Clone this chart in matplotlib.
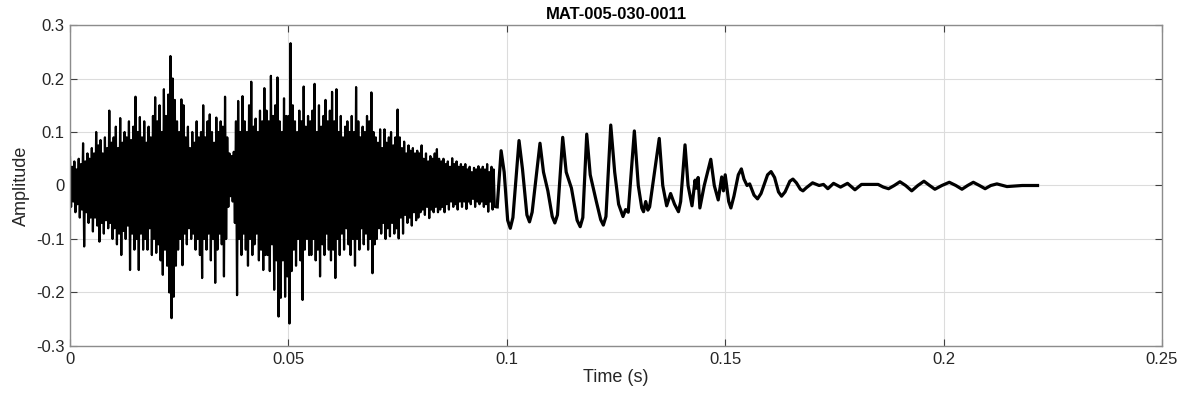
import numpy as np
import matplotlib
matplotlib.use('Agg')
import matplotlib.pyplot as plt
from matplotlib.ticker import FuncFormatter

plt.rcParams['font.family'] = ['Liberation Sans', 'DejaVu Sans']
plt.rcParams['axes.unicode_minus'] = False

title = 'MAT-005-030-0011'

# noisy burst: alternating upper / lower extrema, one pair every burst_dt seconds
burst_dt = 0.0005
burst_hi = [
    0.053, 0.035, 0.045, 0.03, 0.05, 0.04, 0.079, 0.045, 0.06, 0.05,
    0.07, 0.06, 0.10, 0.075, 0.085, 0.06, 0.09, 0.07, 0.14, 0.08,
    0.09, 0.11, 0.07, 0.126, 0.08, 0.1, 0.09, 0.12, 0.085, 0.11,
    0.166, 0.1, 0.128, 0.09, 0.12, 0.08, 0.11, 0.09, 0.13, 0.165,
    0.12, 0.15, 0.1, 0.18, 0.13, 0.17, 0.242, 0.2, 0.16, 0.12,
    0.1, 0.161, 0.15, 0.09, 0.11, 0.07, 0.1, 0.08, 0.12, 0.09,
    0.1, 0.15, 0.09, 0.12, 0.133, 0.1, 0.08, 0.127, 0.1, 0.12,
    0.11, 0.166, 0.09, 0.06, 0.055, 0.063, 0.12, 0.158, 0.1, 0.167,
    0.12, 0.1, 0.15, 0.194, 0.11, 0.125, 0.1, 0.14, 0.12, 0.182,
    0.14, 0.12, 0.205, 0.13, 0.15, 0.202, 0.12, 0.1, 0.163, 0.13,
    0.13, 0.266, 0.15, 0.12, 0.1, 0.14, 0.12, 0.185, 0.11, 0.13,
    0.12, 0.14, 0.19, 0.1, 0.15, 0.11, 0.13, 0.16, 0.12, 0.14,
    0.175, 0.12, 0.18, 0.1, 0.13, 0.09, 0.11, 0.12, 0.1, 0.13,
    0.1, 0.184, 0.12, 0.09, 0.11, 0.1, 0.13, 0.12, 0.174, 0.1,
    0.09, 0.08, 0.105, 0.07, 0.105, 0.08, 0.09, 0.1, 0.075, 0.09,
    0.142, 0.09, 0.07, 0.082, 0.06, 0.075, 0.065, 0.07, 0.06, 0.065,
    0.06, 0.075, 0.05, 0.06, 0.045, 0.055, 0.05, 0.06, 0.068, 0.05,
    0.045, 0.05, 0.04, 0.045, 0.035, 0.051, 0.04, 0.045, 0.035, 0.04,
    0.035, 0.04, 0.03, 0.035, 0.025, 0.033, 0.03, 0.036, 0.03, 0.035,
    0.03, 0.04, 0.025, 0.035, 0.03,
]
burst_lo = [
    -0.04, -0.03, -0.05, -0.035, -0.06, -0.045, -0.114, -0.05, -0.07, -0.06,
    -0.086, -0.06, -0.075, -0.105, -0.07, -0.09, -0.065, -0.08, -0.07, -0.1,
    -0.08, -0.11, -0.09, -0.13, -0.085, -0.1, -0.075, -0.158, -0.09, -0.12,
    -0.1, -0.158, -0.09, -0.12, -0.1, -0.12, -0.08, -0.13, -0.1, -0.126,
    -0.11, -0.14, -0.167, -0.12, -0.15, -0.2, -0.248, -0.208, -0.15, -0.12,
    -0.1, -0.149, -0.09, -0.11, -0.08, -0.1, -0.09, -0.12, -0.1, -0.13,
    -0.173, -0.1, -0.12, -0.09, -0.14, -0.1, -0.182, -0.12, -0.09, -0.11,
    -0.17, -0.1, -0.04, -0.02, -0.03, -0.07, -0.205, -0.1, -0.13, -0.09,
    -0.12, -0.15, -0.1, -0.13, -0.11, -0.09, -0.14, -0.12, -0.158, -0.13,
    -0.13, -0.16, -0.11, -0.195, -0.14, -0.245, -0.21, -0.14, -0.208, -0.17,
    -0.258, -0.16, -0.12, -0.15, -0.1, -0.14, -0.214, -0.12, -0.1, -0.13,
    -0.13, -0.1, -0.14, -0.12, -0.17, -0.11, -0.13, -0.09, -0.12, -0.14,
    -0.12, -0.173, -0.1, -0.13, -0.09, -0.12, -0.08, -0.11, -0.13, -0.1,
    -0.15, -0.1, -0.12, -0.08, -0.11, -0.09, -0.12, -0.1, -0.164, -0.11,
    -0.1, -0.08, -0.09, -0.07, -0.1, -0.08, -0.095, -0.07, -0.09, -0.08,
    -0.099, -0.06, -0.09, -0.055, -0.07, -0.06, -0.075, -0.05, -0.065, -0.06,
    -0.05, -0.045, -0.055, -0.04, -0.061, -0.045, -0.05, -0.04, -0.05, -0.045,
    -0.04, -0.05, -0.035, -0.045, -0.03, -0.04, -0.035, -0.045, -0.03, -0.04,
    -0.03, -0.044, -0.03, -0.035, -0.025, -0.04, -0.03, -0.035, -0.03, -0.04,
    -0.035, -0.049, -0.03, -0.045, -0.04,
]

# decaying ringing after the burst (time s, amplitude)
ring_t = [
    0.0978, 0.0987, 0.0994, 0.1002, 0.1008, 0.1014, 0.1028, 0.1036, 0.1046, 0.1052,
    0.1058, 0.1076, 0.1084, 0.1094, 0.1104, 0.1110, 0.1116, 0.1128, 0.1136, 0.1148,
    0.1161, 0.1168, 0.1174, 0.1183, 0.1191, 0.1205, 0.1215, 0.1221, 0.1227, 0.1238,
    0.1247, 0.1256, 0.1266, 0.1272, 0.1278, 0.1292, 0.1301, 0.1309, 0.1313, 0.1318,
    0.1323, 0.1327, 0.1349, 0.1357, 0.1366, 0.1375, 0.1384, 0.1393, 0.1398, 0.1408,
    0.1415, 0.1424, 0.1431, 0.1434, 0.1438, 0.1442, 0.1452, 0.1467, 0.1475, 0.1484,
    0.1492, 0.1496, 0.1500, 0.1508, 0.1513, 0.1520, 0.1530, 0.1537, 0.1543, 0.1550,
    0.1556, 0.1566, 0.1574, 0.1582, 0.1597, 0.1605, 0.1613, 0.1622, 0.1629, 0.1637,
    0.1648, 0.1655, 0.1663, 0.1672, 0.1678, 0.1686, 0.1700, 0.1715, 0.1725, 0.1735,
    0.1748, 0.1764, 0.1780, 0.1797, 0.1812, 0.1850, 0.1862, 0.1874, 0.1887, 0.1900,
    0.1913, 0.1927, 0.1941, 0.1955, 0.1968, 0.1980, 0.1996, 0.2013, 0.2028, 0.2042,
    0.2055, 0.2068, 0.2082, 0.2095, 0.2108, 0.2122, 0.2145, 0.2180, 0.2215,
]
ring_amp = [
    -0.04, 0.065, 0.025, -0.065, -0.08, -0.06, 0.084, 0.03, -0.055, -0.068,
    -0.05, 0.079, 0.025, -0.01, -0.058, -0.07, -0.055, 0.090, 0.025, -0.005,
    -0.065, -0.077, -0.06, 0.096, 0.02, -0.03, -0.064, -0.074, -0.058, 0.113,
    0.025, -0.035, -0.058, -0.045, -0.05, 0.102, 0.0, -0.042, -0.049, -0.03,
    -0.046, -0.04, 0.088, 0.0, -0.038, -0.015, -0.035, -0.049, -0.03, 0.076,
    0.0, -0.038, 0.01, -0.005, 0.015, -0.042, 0.0, 0.049, 0.0, -0.027,
    0.016, -0.01, 0.02, -0.03, -0.042, -0.02, 0.02, 0.031, 0.012, 0.0,
    0.003, -0.018, -0.025, -0.015, 0.02, 0.026, 0.015, -0.012, -0.02, -0.012,
    0.008, 0.012, 0.005, -0.007, -0.01, -0.004, 0.005, 0.0, 0.002, -0.006,
    0.004, -0.003, 0.004, -0.008, 0.002, 0.002, -0.003, -0.006, 0.0, 0.007,
    0.0, -0.01, 0.0, 0.008, 0.0, -0.007, 0.0, 0.006, 0.0, -0.007,
    0.0, 0.006, 0.0, -0.006, 0.0, 0.003, -0.002, 0.0, 0.0,
]

# interleave burst extrema into one trace
n = len(burst_hi)
burst_t = np.empty(2 * n)
burst_t[0::2] = np.arange(n) * burst_dt
burst_t[1::2] = (np.arange(n) + 0.5) * burst_dt
burst_y = np.empty(2 * n)
burst_y[0::2] = burst_hi
burst_y[1::2] = burst_lo

fig = plt.figure(figsize=(11.82, 4.04), dpi=100)
ax = fig.add_axes([0.0592, 0.1436, 0.9239, 0.7945])

ax.plot(np.append(burst_t, ring_t[0]), np.append(burst_y, ring_amp[0]),
        color='black', lw=1.6)
ax.plot(ring_t, ring_amp, color='black', lw=2.3, solid_joinstyle='round')

ax.set_xlim(0, 0.25)
ax.set_ylim(-0.3, 0.3)
ax.set_xticks([0, 0.05, 0.1, 0.15, 0.2, 0.25])
ax.set_yticks([-0.3, -0.2, -0.1, 0, 0.1, 0.2, 0.3])
fmt = FuncFormatter(lambda v, p: '%g' % round(v, 3))
ax.xaxis.set_major_formatter(fmt)
ax.yaxis.set_major_formatter(fmt)

ax.grid(True, color='#dcdcdc', lw=0.8)
ax.set_axisbelow(True)
for s in ax.spines.values():
    s.set_color('#8c8c8c')
    s.set_linewidth(1.0)
ax.tick_params(direction='in', top=True, right=True, length=5,
               color='#404040', labelsize=12, labelcolor='#262626', pad=4)

ax.set_xlabel('Time (s)', fontsize=13, color='#262626', labelpad=2)
ax.set_ylabel('Amplitude', fontsize=13, color='#262626', labelpad=4)
ax.set_title(title, fontsize=12, fontweight='bold', color='black', pad=4)

fig.savefig('out.png', dpi=100)
